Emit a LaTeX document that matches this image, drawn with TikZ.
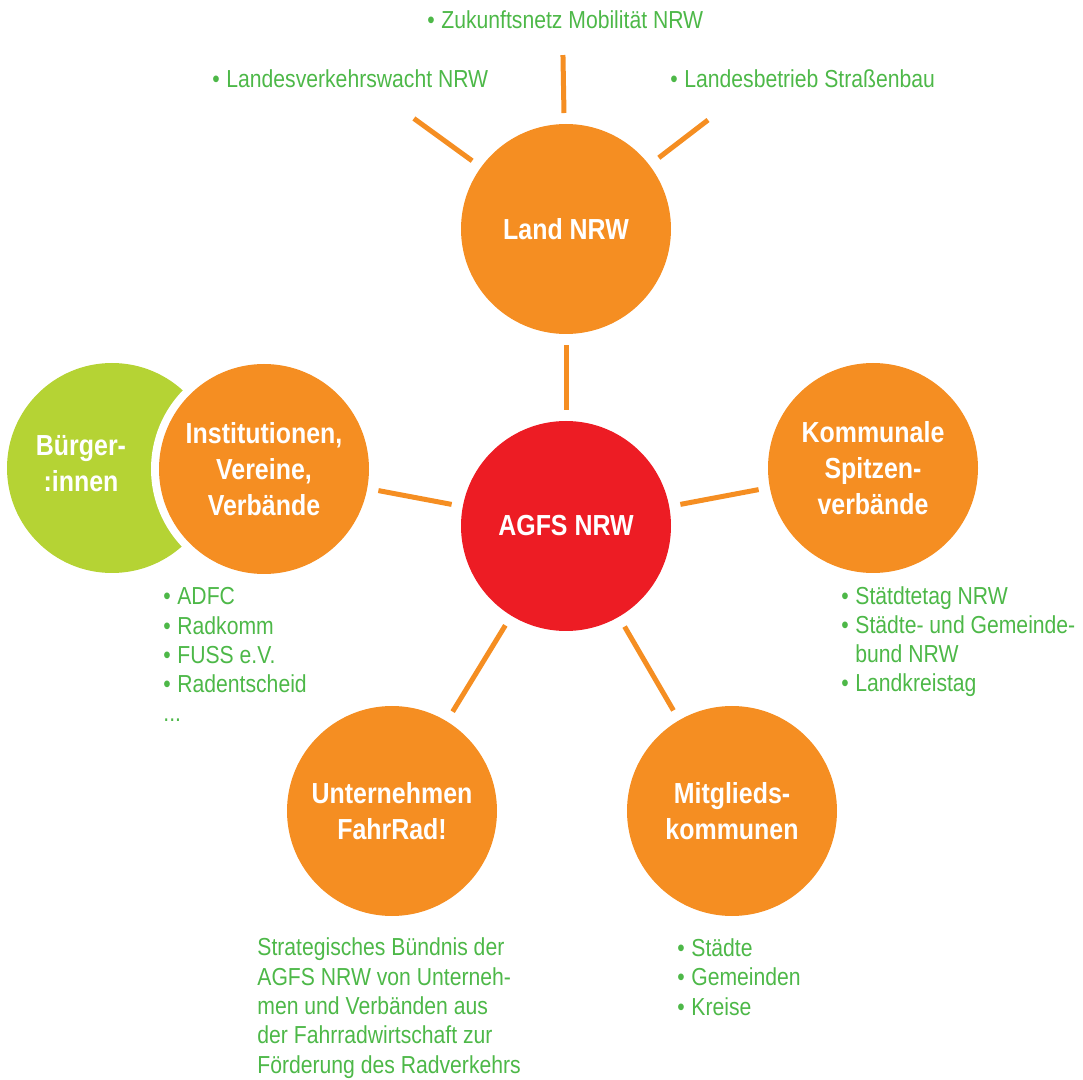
\documentclass[tikz,border=0pt]{standalone}
\usepackage{fontspec}
\setmainfont{Liberation Sans}[FakeStretch=0.86]
\usepackage{xcolor}

\definecolor{agfsorange}{HTML}{F58E22}
\definecolor{agfsred}{HTML}{ED1C24}
\definecolor{agfslime}{HTML}{B5D334}
\definecolor{agfsgreen}{HTML}{4DB848}

\newcommand{\pkt}{\makebox[7pt][l]{•}}

\begin{document}
\begin{tikzpicture}[
    x=0.5pt, y=-0.5pt,
    bubble/.style={circle, fill=agfsorange, minimum size=105pt, inner sep=0pt, text=white, font=\bfseries\fontsize{14.5}{18}\selectfont, align=center},
    hub/.style={bubble, fill=agfsred},
    link/.style={draw=agfsorange, line width=2.5pt, shorten <=5.5pt, shorten >=5.5pt},
    spoke/.style={draw=agfsorange, line width=2.5pt},
    liste/.style={text=agfsgreen, font=\fontsize{12.3}{14.65}\selectfont, align=left, anchor=base west, inner sep=0pt}
]
\useasboundingbox (0,0) rectangle (1083,1080);

\node (buerger) [circle, fill=agfslime, minimum size=105pt] at (112,468) {};
\node (buergertext) [text=white, font=\bfseries\fontsize{14.5}{18}\selectfont, align=center] at (81,464) {Bürger-\\:innen};

\node (agfs) [hub] at (566,526) {AGFS NRW};
\node (land) [bubble] at (566,229) {Land NRW};
\node (kommunal) [bubble] at (873,468) {Kommunale\\Spitzen-\\verbände};
\node (institution) [bubble, preaction={draw=white, line width=8pt}] at (264,469) {Institutionen,\\Vereine,\\Verbände};
\node (unternehmen) [bubble] at (392,811) {Unternehmen\\FahrRad!};
\node (mitglied) [bubble] at (732,811) {Mitglieds-\\kommunen};

\draw [link] (agfs) -- (land);
\draw [link] (agfs) -- (kommunal);
\draw [link] (agfs) -- (institution);
\draw [link] (agfs) -- (unternehmen);
\draw [link] (agfs) -- (mitglied);

% Strahlen um Land NRW
\draw [spoke] (land) ++(-144:116) -- ++(-144:72);
\draw [spoke] (land) ++(-91:116) -- ++(-91:58);
\draw [spoke] (land) ++(-37.5:117) -- ++(-37.5:62);

\node (zukunft) [liste] at (427,29) {\pkt Zukunftsnetz Mobilität NRW};
\node (wacht) [liste] at (212,88) {\pkt Landesverkehrswacht NRW};
\node (strassen) [liste] at (670,88) {\pkt Landesbetrieb Straßenbau};

% Listen: Anker auf der Grundlinie der letzten Zeile
\node (vereine) [liste] at (163,722) {\pkt ADFC\\\pkt Radkomm\\\pkt FUSS e.V.\\\pkt Radentscheid\\...};
\node (spitzen) [liste] at (841,692) {\pkt Stätdtetag NRW\\\pkt Städte- und Gemeinde-\\\hspace*{7pt}bund NRW\\\pkt Landkreistag};
\node (buendnis) [liste] at (257,1073) {Strategisches Bündnis der\\AGFS NRW von Unterneh-\\men und Verbänden aus\\der Fahrradwirtschaft zur\\Förderung des Radverkehrs};
\node (kommunen) [liste] at (677,1015) {\pkt Städte\\\pkt Gemeinden\\\pkt Kreise};
\end{tikzpicture}
\end{document}
